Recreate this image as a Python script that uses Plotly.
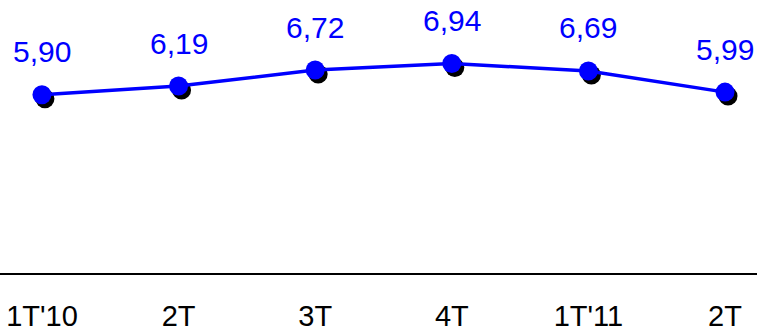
import plotly.graph_objects as go

# Quarterly values
quarters = ["1T'10", "2T", "3T", "4T", "1T'11", "2T"]
values = [5.90, 6.19, 6.72, 6.94, 6.69, 5.99]

positions = list(range(len(quarters)))

W, H = 757, 334
x_range = [-0.307, 5.234]
y_range = [0, 9.04]
margin_b = 61

# pixel -> data unit conversions, used to offset the drop shadow
px_x = (x_range[1] - x_range[0]) / W
px_y = (y_range[1] - y_range[0]) / (H - margin_b)
shadow_dx, shadow_dy = 3, 4

blue = "#0000FF"

fig = go.Figure()

# drop shadow behind each marker
fig.add_trace(go.Scatter(
    x=[p + shadow_dx * px_x for p in positions],
    y=[v - shadow_dy * px_y for v in values],
    mode="markers",
    marker=dict(size=19, color="black"),
    hoverinfo="skip",
    showlegend=False,
    cliponaxis=False,
))

fig.add_trace(go.Scatter(
    x=positions,
    y=values,
    mode="lines+markers",
    line=dict(color=blue, width=3.5),
    marker=dict(size=19, color=blue),
    showlegend=False,
    cliponaxis=False,
))

for p, v in zip(positions, values):
    fig.add_annotation(
        x=p, y=v, text=f"{v:.2f}".replace(".", ","),
        showarrow=False, yshift=43,
        font=dict(family="Liberation Sans, Arial, sans-serif", size=30, color=blue),
    )

fig.update_xaxes(
    range=x_range,
    tickvals=positions,
    ticktext=quarters,
    showgrid=False,
    zeroline=False,
    showline=True,
    linecolor="black",
    linewidth=2,
    ticks="",
    ticklabelstandoff=16,
    automargin=False,
    tickfont=dict(family="Liberation Sans, Arial, sans-serif", size=29, color="black"),
)
fig.update_yaxes(
    range=y_range,
    visible=False,
    showgrid=False,
    zeroline=False,
    automargin=False,
)

fig.update_layout(
    width=W, height=H,
    margin=dict(l=0, r=0, t=0, b=margin_b, pad=0),
    plot_bgcolor="white",
    paper_bgcolor="white",
)

fig.write_html("out.html")
